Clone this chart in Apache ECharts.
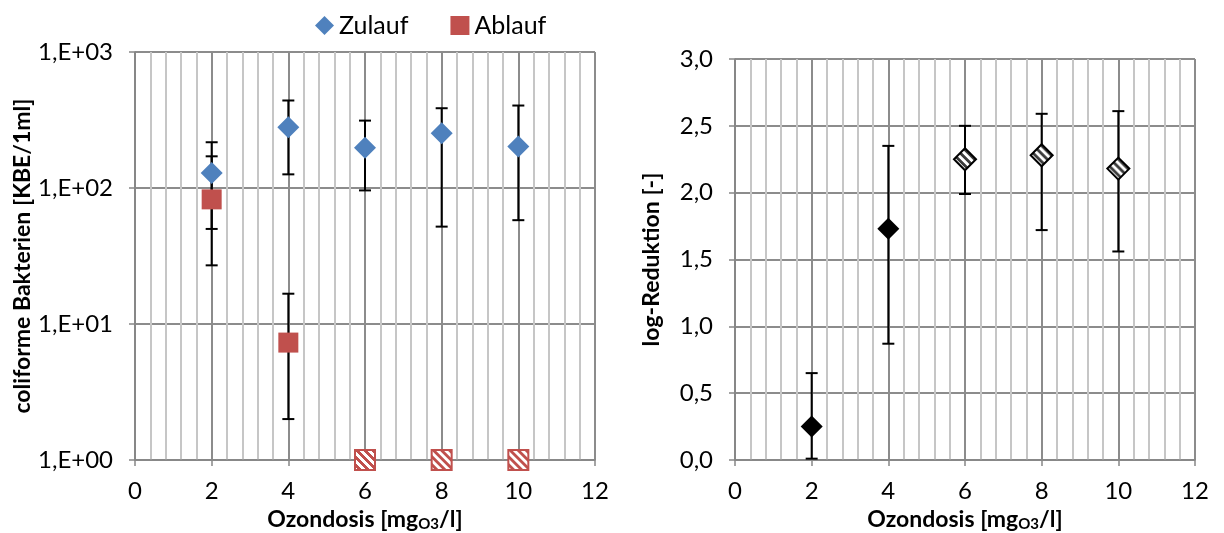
<!DOCTYPE html>
<html>
<head>
<meta charset="utf-8">
<script src="https://cdn.jsdelivr.net/npm/echarts@6/dist/echarts.min.js"></script>
<style>
html,body{margin:0;padding:0;background:#fff;}
#c{width:1224px;height:533px;}
</style>
</head>
<body>
<div id="c"></div>
<script>
// ---- data ----
const xTicks = [0, 2, 4, 6, 8, 10, 12];
const dose = [2, 4, 6, 8, 10];
// Left chart: coliforme Bakterien [KBE/1ml]
const zulaufMean = [129, 280, 198, 253, 202];
const zulaufLow  = [50, 126, 96, 52, 58];
const zulaufHigh = [217, 440, 313, 386, 404];
const ablaufMean = [82.5, 7.3, 1, 1, 1];
const ablaufLow  = [27, 2.0, null, null, null];
const ablaufHigh = [171, 16.7, null, null, null];
const ablaufBelowLimit = [false, false, true, true, true];
// Right chart: log-Reduktion [-]
const logRedMean = [0.25, 1.73, 2.25, 2.28, 2.18];
const logRedLow  = [0.01, 0.87, 1.99, 1.72, 1.56];
const logRedHigh = [0.65, 2.35, 2.50, 2.59, 2.61];
const logRedHatched = [false, false, true, true, true];

const FONT = 'Lato';
const BLUE = '#4F81BD';
const RED = '#C0504D';

function makeStripes(rgb, period, band) {
  const c = document.createElement('canvas');
  c.width = period; c.height = period;
  const g = c.getContext('2d');
  const img = g.createImageData(period, period);
  for (let y = 0; y < period; y++) {
    for (let x = 0; x < period; x++) {
      const k = ((x - y) % period + period) % period;
      const on = k < band;
      const i = (y * period + x) * 4;
      img.data[i] = on ? rgb[0] : 255;
      img.data[i + 1] = on ? rgb[1] : 255;
      img.data[i + 2] = on ? rgb[2] : 255;
      img.data[i + 3] = 255;
    }
  }
  g.putImageData(img, 0, 0);
  return c;
}
// scatter symbols are drawn as unit paths scaled by symbolSize/2, so the pattern is scaled back
const redHatch = { image: makeStripes([192, 80, 77], 8, 4), repeat: 'repeat', scaleX: 0.1, scaleY: 0.1 };
const greyHatch = { image: makeStripes([60, 60, 60], 8, 4), repeat: 'repeat', scaleX: 1 / 11, scaleY: 1 / 11 };

function errRender(params, api) {
  const x = api.value(0), lo = api.value(1), hi = api.value(2);
  const p1 = api.coord([x, lo]), p2 = api.coord([x, hi]);
  const w = 6;
  const st = { stroke: '#000', lineWidth: 2 };
  return {
    type: 'group',
    children: [
      { type: 'line', shape: { x1: p1[0], y1: p1[1], x2: p2[0], y2: p2[1] }, style: st },
      { type: 'line', shape: { x1: p1[0] - w, y1: p1[1], x2: p1[0] + w, y2: p1[1] }, style: st },
      { type: 'line', shape: { x1: p2[0] - w, y1: p2[1], x2: p2[0] + w, y2: p2[1] }, style: st }
    ]
  };
}

function errData(lo, hi) {
  const out = [];
  dose.forEach((d, i) => { if (lo[i] != null && hi[i] != null) out.push([d, lo[i], hi[i]]); });
  return out;
}

const xTitleRich = {
  a: { fontFamily: FONT, fontSize: 23, fontWeight: 'bold', color: '#000' },
  s: { fontFamily: FONT, fontSize: 15, fontWeight: 'bold', color: '#000', padding: [10, 0, 0, 0] }
};

function xAxisCfg(gi) {
  return {
    type: 'value', gridIndex: gi, min: xTicks[0], max: xTicks[xTicks.length - 1], interval: 2,
    name: '{a|Ozondosis [mg}{s|O3}{a|/l]}',
    nameLocation: 'middle', nameGap: 47,
    nameTextStyle: { rich: xTitleRich },
    axisLine: { show: true, onZero: false, lineStyle: { color: '#868686', width: 1.5 } },
    axisTick: { show: true, length: 6, lineStyle: { color: '#868686', width: 1.5 } },
    axisLabel: { fontFamily: FONT, fontSize: 24, color: '#000', margin: 19 },
    splitLine: { show: true, lineStyle: { color: '#8C8C8C', width: 2 } },
    minorTick: { show: false, splitNumber: 5 },
    minorSplitLine: { show: true, lineStyle: { color: '#C6C6C6', width: 2 } }
  };
}

const option = {
  backgroundColor: '#fff',
  animation: false,
  legend: {
    left: 310, top: 8,
    itemWidth: 19, itemHeight: 19, itemGap: 42, itemTextGap: 5,
    textStyle: { fontFamily: FONT, fontSize: 25, color: '#000' },
    data: ['Zulauf', 'Ablauf']
  },
  grid: [
    { left: 135, right: 629, top: 52, bottom: 73, outerBoundsMode: 'none', containLabel: false },
    { left: 735, right: 29, top: 59, bottom: 73, outerBoundsMode: 'none', containLabel: false }
  ],
  xAxis: [xAxisCfg(0), xAxisCfg(1)],
  yAxis: [
    {
      type: 'log', gridIndex: 0, min: 1, max: 1000, logBase: 10,
      name: 'coliforme Bakterien [KBE/1ml]', nameLocation: 'middle', nameGap: 101,
      nameTextStyle: { fontFamily: FONT, fontSize: 23, fontWeight: 'bold', color: '#000' },
      axisLine: { show: true, lineStyle: { color: '#868686', width: 1.5 } },
      axisTick: { show: true, length: 6, lineStyle: { color: '#868686', width: 1.5 } },
      axisLabel: {
        fontFamily: FONT, fontSize: 24, color: '#000', margin: 22,
        formatter: v => '1,E+' + String(Math.round(Math.log10(v))).padStart(2, '0')
      },
      splitLine: { show: true, lineStyle: { color: '#8C8C8C', width: 2 } }
    },
    {
      type: 'value', gridIndex: 1, min: 0, max: 3, interval: 0.5,
      name: 'log-Reduktion [-]', nameLocation: 'middle', nameGap: 72,
      nameTextStyle: { fontFamily: FONT, fontSize: 23, fontWeight: 'bold', color: '#000' },
      axisLine: { show: true, lineStyle: { color: '#868686', width: 1.5 } },
      axisTick: { show: true, length: 6, lineStyle: { color: '#868686', width: 1.5 } },
      axisLabel: {
        fontFamily: FONT, fontSize: 24, color: '#000', margin: 22,
        formatter: v => v.toFixed(1).replace('.', ',')
      },
      splitLine: { show: true, lineStyle: { color: '#8C8C8C', width: 2 } }
    }
  ],
  series: [
    {
      type: 'custom', name: 'errZ', xAxisIndex: 0, yAxisIndex: 0, z: 1,
      renderItem: errRender, encode: { x: 0, y: [1, 2] },
      data: errData(zulaufLow, zulaufHigh), clip: false, silent: true
    },
    {
      type: 'custom', name: 'errA', xAxisIndex: 0, yAxisIndex: 0, z: 1,
      renderItem: errRender, encode: { x: 0, y: [1, 2] },
      data: errData(ablaufLow, ablaufHigh), clip: false, silent: true
    },
    {
      type: 'scatter', name: 'Zulauf', xAxisIndex: 0, yAxisIndex: 0, z: 3,
      symbol: 'diamond', symbolSize: 22, clip: false,
      itemStyle: { color: BLUE, opacity: 1 },
      data: dose.map((d, i) => [d, zulaufMean[i]])
    },
    {
      type: 'scatter', name: 'Ablauf', xAxisIndex: 0, yAxisIndex: 0, z: 3,
      symbol: 'rect', symbolSize: 20, clip: false,
      itemStyle: { color: RED, opacity: 1 },
      data: dose.map((d, i) => ablaufBelowLimit[i]
        ? { value: [d, ablaufMean[i]], itemStyle: { color: redHatch, borderColor: RED, borderWidth: 2 } }
        : [d, ablaufMean[i]])
    },
    {
      type: 'custom', name: 'errR', xAxisIndex: 1, yAxisIndex: 1, z: 1,
      renderItem: errRender, encode: { x: 0, y: [1, 2] },
      data: errData(logRedLow, logRedHigh), clip: false, silent: true
    },
    {
      type: 'scatter', name: 'logRed', xAxisIndex: 1, yAxisIndex: 1, z: 3,
      symbol: 'diamond', symbolSize: 22, clip: false,
      itemStyle: { color: '#000', opacity: 1 },
      data: dose.map((d, i) => logRedHatched[i]
        ? { value: [d, logRedMean[i]], itemStyle: { color: greyHatch, borderColor: '#000', borderWidth: 2 } }
        : [d, logRedMean[i]])
    }
  ]
};

const chart = echarts.init(document.getElementById('c'), null, { renderer: 'canvas' });
chart.setOption(option);
</script>
</body>
</html>
